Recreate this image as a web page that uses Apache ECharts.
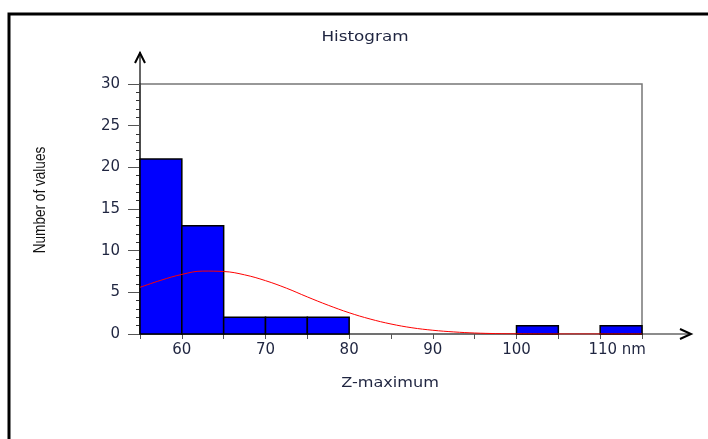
<!DOCTYPE html>
<html>
<head>
<meta charset="utf-8">
<style>
  html, body { margin: 0; padding: 0; background: #fff; }
  #container { width: 708px; height: 439px; }
</style>
<script src="https://cdn.jsdelivr.net/npm/echarts@6/dist/echarts.min.js"></script>
</head>
<body>
<div id="container"></div>
<script>
// histogram bins (nm) and counts
var binStart = [55, 60, 65, 70, 75, 100, 110];
var binEnd = [60, 65, 70, 75, 80, 105, 115];
var counts = [21, 13, 2, 2, 2, 1, 1];

// fitted curve
var curveX = [55, 57.5, 60, 62.5, 65, 67.5, 70, 72.5, 75, 77.5, 80, 82.5, 85, 87.5, 90, 92.5, 95, 97.5, 100, 105, 110, 115];
var curveY = [5.6, 6.45, 7.15, 7.55, 7.5, 7.1, 6.4, 5.5, 4.45, 3.45, 2.55, 1.8, 1.2, 0.75, 0.45, 0.25, 0.12, 0.05, 0.02, 0, 0, 0];

var xTickLabels = [60, 70, 80, 90, 100, 110];

var textColor = '#1f2540';
var dom = document.getElementById('container');
var myChart = echarts.init(dom, null, { renderer: 'canvas' });

var barData = binStart.map(function (s, i) {
  return [s, binEnd[i], counts[i]];
});
var curveData = curveX.map(function (x, i) {
  return [x, curveY[i]];
});

function renderBar(params, api) {
  var p0 = api.coord([api.value(0), api.value(2)]);
  var p1 = api.coord([api.value(1), 0]);
  return {
    type: 'rect',
    shape: { x: p0[0], y: p0[1], width: p1[0] - p0[0], height: p1[1] - p0[1] },
    style: { fill: '#0000ff', stroke: '#000', lineWidth: 1.5 }
  };
}

var option = {
  animation: false,
  grid: {
    left: 140, right: 66, top: 84, bottom: 105,
    show: true, borderColor: '#777', borderWidth: 1.5
  },
  xAxis: {
    type: 'value',
    min: 55,
    max: 115,
    interval: 5,
    splitLine: { show: false },
    axisLine: { show: true, onZero: false, lineStyle: { color: '#666', width: 1.5 } },
    axisTick: { show: true, length: 5, lineStyle: { color: '#555' } },
    axisLabel: {
      margin: 9,
      fontFamily: 'DejaVu Sans',
      fontSize: 15,
      color: textColor,
      showMinLabel: true,
      showMaxLabel: true,
      formatter: function (v) {
        if (xTickLabels.indexOf(v) < 0) return '';
        if (v === 110) return '{u|110 nm}';
        return String(v);
      },
      rich: {
        u: { fontFamily: 'DejaVu Sans', fontSize: 15, color: textColor, padding: [0, 0, 0, 34] }
      }
    }
  },
  yAxis: {
    type: 'value',
    min: 0,
    max: 30,
    interval: 5,
    splitLine: { show: false },
    axisLine: { show: true, lineStyle: { color: '#333', width: 1.5 } },
    axisTick: { show: true, length: 12, lineStyle: { color: '#555' } },
    minorTick: { show: true, splitNumber: 5, length: 4, lineStyle: { color: '#333' } },
    axisLabel: { margin: 20, fontFamily: 'DejaVu Sans', fontSize: 15, color: textColor }
  },
  series: [
    {
      type: 'custom',
      renderItem: renderBar,
      data: barData,
      encode: { x: [0, 1], y: 2 },
      z: 2
    },
    {
      type: 'line',
      data: curveData,
      smooth: 0.4,
      showSymbol: false,
      lineStyle: { color: '#ff0000', width: 1 },
      z: 3
    }
  ],
  graphic: [
    {
      type: 'polyline',
      shape: { points: [[9, 439], [9, 14], [708, 14]] },
      style: { stroke: '#000', lineWidth: 3, fill: null }
    },
    {
      type: 'polyline',
      shape: { points: [[140, 84], [140, 52]] },
      style: { stroke: '#333', lineWidth: 1.5, fill: null }
    },
    {
      type: 'polyline',
      shape: { points: [[135, 63], [140, 53], [145, 63]] },
      style: { stroke: '#000', lineWidth: 2, fill: null }
    },
    {
      type: 'polyline',
      shape: { points: [[642, 334], [691, 334]] },
      style: { stroke: '#666', lineWidth: 1.5, fill: null }
    },
    {
      type: 'polyline',
      shape: { points: [[680, 329], [691, 334], [680, 339]] },
      style: { stroke: '#000', lineWidth: 2, fill: null }
    },
    {
      type: 'text',
      x: 365,
      y: 37,
      scaleX: 1.2,
      style: {
        text: 'Histogram',
        fontFamily: 'DejaVu Sans',
        fontSize: 14,
        fill: textColor,
        align: 'center',
        verticalAlign: 'middle'
      }
    },
    {
      type: 'text',
      x: 390,
      y: 383,
      scaleX: 1.15,
      style: {
        text: 'Z-maximum',
        fontFamily: 'DejaVu Sans',
        fontSize: 14,
        fill: textColor,
        align: 'center',
        verticalAlign: 'middle'
      }
    },
    {
      type: 'text',
      x: 40,
      y: 200,
      rotation: Math.PI / 2,
      scaleX: 0.8,
      style: {
        text: 'Number of values',
        fontFamily: 'Liberation Sans',
        fontSize: 17,
        fill: '#111',
        align: 'center',
        verticalAlign: 'middle'
      }
    }
  ]
};

myChart.setOption(option);
window.addEventListener('resize', myChart.resize);
</script>
</body>
</html>
